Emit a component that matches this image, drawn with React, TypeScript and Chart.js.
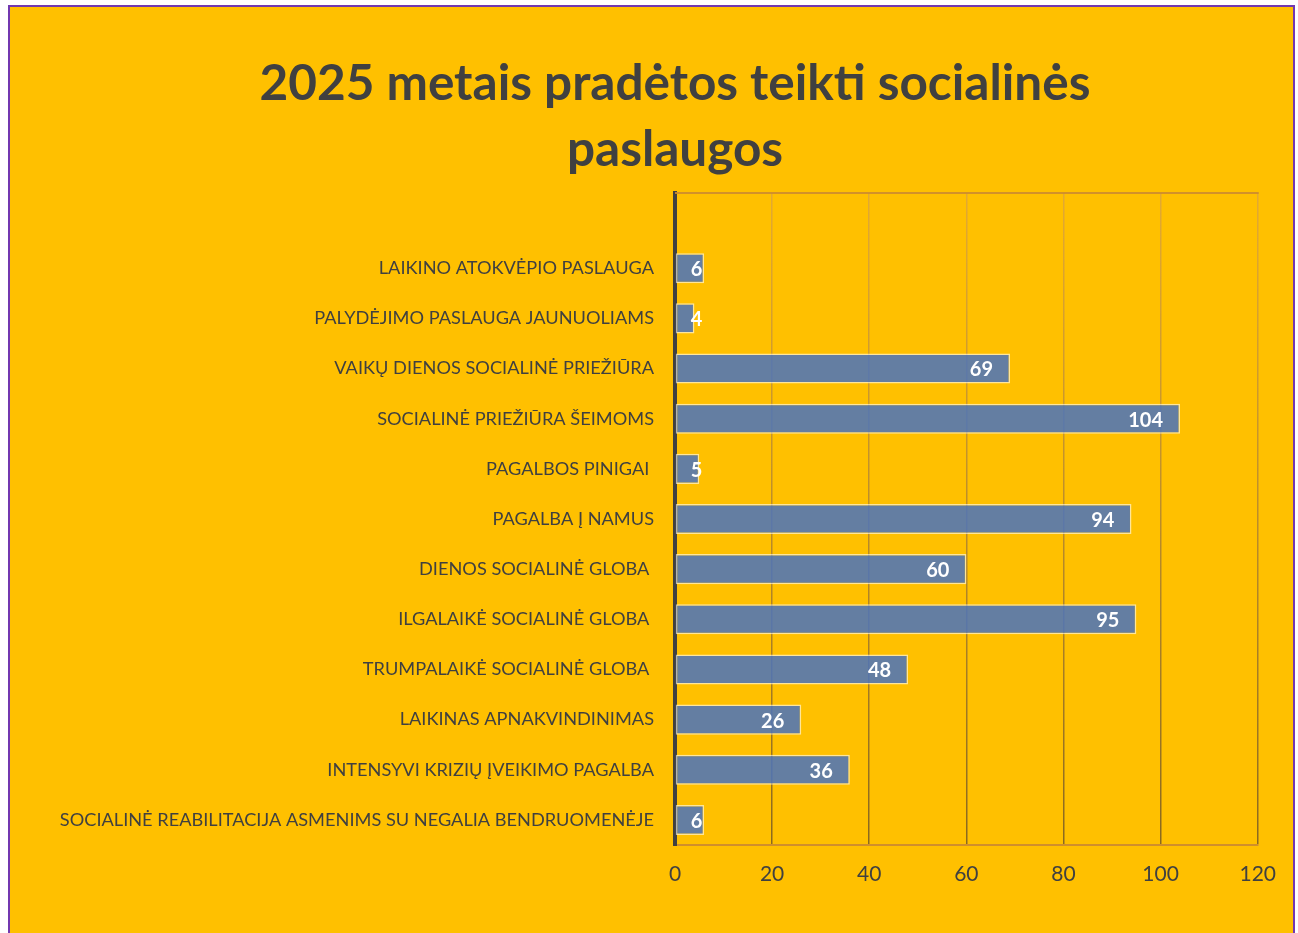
import React, { useEffect, useRef } from "react";
import { Chart, registerables } from "chart.js";

Chart.register(...registerables);

const titleLines = ["2025 metais pradėtos teikti socialinės", "paslaugos"];

const categories = [
  "",
  "LAIKINO ATOKVĖPIO PASLAUGA",
  "PALYDĖJIMO PASLAUGA JAUNUOLIAMS",
  "VAIKŲ DIENOS SOCIALINĖ PRIEŽIŪRA",
  "SOCIALINĖ PRIEŽIŪRA ŠEIMOMS",
  "PAGALBOS PINIGAI ",
  "PAGALBA Į NAMUS",
  "DIENOS SOCIALINĖ GLOBA ",
  "ILGALAIKĖ SOCIALINĖ GLOBA ",
  "TRUMPALAIKĖ SOCIALINĖ GLOBA ",
  "LAIKINAS APNAKVINDINIMAS",
  "INTENSYVI KRIZIŲ ĮVEIKIMO PAGALBA",
  "SOCIALINĖ REABILITACIJA ASMENIMS SU NEGALIA BENDRUOMENĖJE",
];

const values: (number | null)[] = [null, 6, 4, 69, 104, 5, 94, 60, 95, 48, 26, 36, 6];

const xTicks = [0, 20, 40, 60, 80, 100, 120];

const FONT = "Lato, 'Open Sans', sans-serif";
const TEXT = "#404040";

const labelPlugin = {
  id: "barLabels",
  afterDatasetsDraw(chart: any) {
    const ctx = chart.ctx;
    const meta = chart.getDatasetMeta(0);
    ctx.save();
    ctx.font = `bold 20px ${FONT}`;
    ctx.fillStyle = "#ffffff";
    ctx.textBaseline = "middle";
    ctx.textAlign = "left";
    meta.data.forEach((el: any, i: number) => {
      const v = values[i];
      if (v === null || v === undefined) return;
      const txt = String(v);
      const w = ctx.measureText(txt).width;
      const right = Math.max(el.x - 17, el.base + 15 + w);
      ctx.fillText(txt, right - w, el.y + 1.5);
    });
    ctx.restore();
  },
};

const titlePlugin = {
  id: "customTitle",
  afterDraw(chart: any) {
    const ctx = chart.ctx;
    ctx.save();
    ctx.font = `bold 49.5px ${FONT}`;
    ctx.fillStyle = TEXT;
    ctx.textAlign = "center";
    ctx.textBaseline = "middle";
    const cx = (chart.width - 35 + 82) / 2;
    titleLines.forEach((line, i) => {
      ctx.fillText(line, cx, 77 + i * 66);
    });
    ctx.restore();
  },
};

const framePlugin = {
  id: "frameTop",
  beforeDatasetsDraw(chart: any) {
    const { ctx, chartArea } = chart;
    ctx.save();
    ctx.strokeStyle = "rgba(205,140,45,0.9)";
    ctx.lineWidth = 2;
    ctx.beginPath();
    ctx.moveTo(chartArea.left, chartArea.top);
    ctx.lineTo(chartArea.right + 1, chartArea.top);
    ctx.stroke();
    ctx.restore();
  },
};

export default function App() {
  const ref = useRef<HTMLCanvasElement | null>(null);

  useEffect(() => {
    if (!ref.current) return;
    const chart = new Chart(ref.current, {
      type: "bar",
      data: {
        labels: categories,
        datasets: [
          {
            data: values,
            backgroundColor: "rgba(78,116,184,0.88)",
            borderColor: "rgba(255,255,255,0.6)",
            borderWidth: 1.5,
            borderSkipped: false,
            categoryPercentage: 1,
            barPercentage: 0.6,
          },
        ],
      },
      options: {
        indexAxis: "y",
        responsive: false,
        animation: false,
        layout: { padding: { left: 0, right: 35, top: 186, bottom: 0 } },
        plugins: {
          legend: { display: false },
          tooltip: { enabled: false },
          title: { display: false },
        },
        scales: {
          x: {
            min: 0,
            max: 120,
            afterBuildTicks(scale: any) {
              scale.ticks = xTicks.map((v) => ({ value: v }));
            },
            afterFit(scale: any) {
              scale.height = 88;
            },
            grid: {
              drawTicks: false,
              lineWidth: 1.5,
              color: (c: any) => {
                const area = c.chart.chartArea;
                if (!area) return "rgba(140,100,40,0.8)";
                const g = c.chart.ctx.createLinearGradient(0, area.top, 0, area.bottom);
                g.addColorStop(0, "rgba(215,160,70,0.7)");
                g.addColorStop(1, "rgba(125,95,35,0.9)");
                return g;
              },
            },
            border: { display: true, color: "rgba(205,140,45,0.95)", width: 2 },
            ticks: {
              padding: 17,
              color: TEXT,
              font: { family: FONT, size: 21 },
            },
          },
          y: {
            afterFit(scale: any) {
              scale.width = 665;
            },
            grid: { display: false, drawTicks: false },
            border: { display: true, color: "#404040", width: 4 },
            ticks: {
              padding: 21,
              color: TEXT,
              autoSkip: false,
              font: { family: FONT, size: 18.2 },
            },
          },
        },
      },
      plugins: [labelPlugin, framePlugin, titlePlugin],
    });
    return () => chart.destroy();
  }, []);

  return (
    <div
      style={{
        position: "absolute",
        left: 8,
        top: 5,
        width: 1287,
        height: 928,
        boxSizing: "border-box",
        border: "2px solid #7238B0",
        borderBottom: "none",
        background: "#FFC000",
        overflow: "hidden",
      }}
    >
      <canvas ref={ref} width={1283} height={926} style={{ display: "block" }} />
    </div>
  );
}
